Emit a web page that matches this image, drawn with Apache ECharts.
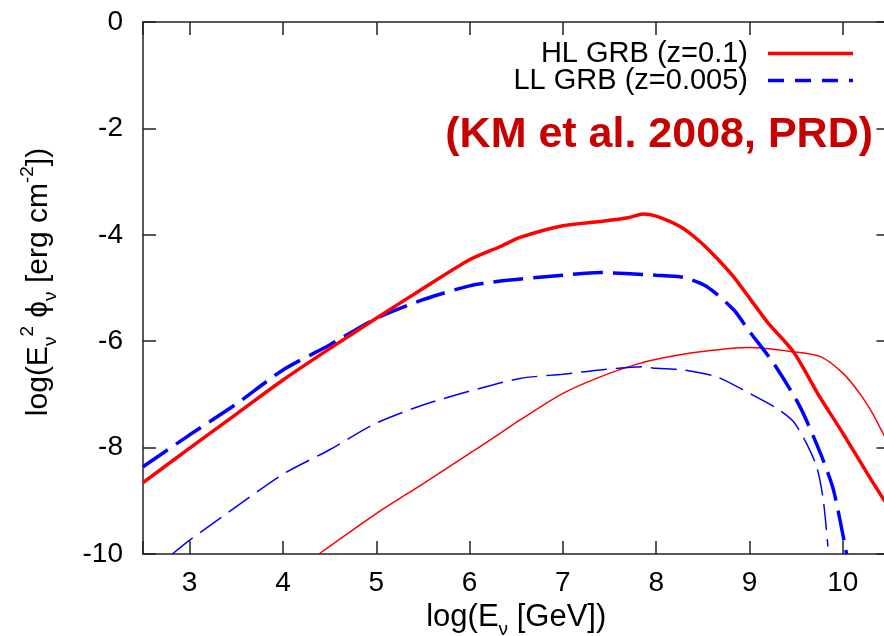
<!DOCTYPE html>
<html>
<head>
<meta charset="utf-8">
<script src="https://cdn.jsdelivr.net/npm/echarts@6/dist/echarts.min.js"></script>
<style>
html,body{margin:0;padding:0;background:#fff;}
#chart{width:884px;height:636px;}
</style>
</head>
<body>
<div id="chart"></div>
<script>
// ---- data (log10 E [GeV], log10 E^2 phi [erg cm^-2]) ----
const hlThickX = [2.5, 3, 3.5, 4, 4.5, 5, 5.5, 6, 6.33, 6.54, 7, 7.4, 7.7, 7.86, 8, 8.26, 8.47, 8.65, 8.83, 9, 9.2, 9.47, 9.75, 10, 10.26, 10.44, 10.5];
const hlThickY = [-8.66, -8.01, -7.37, -6.73, -6.14, -5.57, -5.01, -4.47, -4.22, -4.05, -3.83, -3.75, -3.68, -3.61, -3.65, -3.85, -4.13, -4.44, -4.79, -5.19, -5.66, -6.20, -7.04, -7.73, -8.48, -8.98, -9.12];

const llThickX = [2.5, 3, 3.5, 4, 4.5, 5, 5.5, 6, 6.33, 7, 7.4, 8, 8.29, 8.54, 8.83, 9, 9.26, 9.54, 9.76, 9.9, 10.04];
const llThickY = [-8.36, -7.76, -7.18, -6.54, -6.07, -5.57, -5.22, -4.96, -4.87, -4.76, -4.71, -4.76, -4.80, -4.97, -5.41, -5.82, -6.42, -7.23, -8.11, -8.80, -10.0];

const hlThinX = [4.385, 5, 5.5, 6, 6.33, 6.54, 7, 7.4, 7.76, 8, 8.47, 9, 9.47, 9.76, 10.0, 10.18, 10.32, 10.43, 10.5];
const hlThinY = [-10, -9.24, -8.68, -8.11, -7.73, -7.48, -6.98, -6.67, -6.45, -6.34, -6.20, -6.12, -6.20, -6.29, -6.60, -6.98, -7.36, -7.73, -7.95];

const llThinX = [2.815, 3, 3.5, 4, 4.5, 5, 5.5, 6, 6.54, 7, 7.4, 7.86, 8, 8.29, 8.65, 9, 9.29, 9.47, 9.61, 9.72, 9.79, 9.84];
const llThinY = [-10, -9.74, -9.11, -8.50, -8.04, -7.54, -7.20, -6.94, -6.70, -6.62, -6.54, -6.48, -6.51, -6.54, -6.67, -6.98, -7.26, -7.51, -7.92, -8.36, -8.98, -9.86];

const xTickLabels = [3, 4, 5, 6, 7, 8, 9, 10];
const yTickLabels = [0, -2, -4, -6, -8, -10];
const seriesNames = ['HL GRB (z=0.1)', 'LL GRB (z=0.005)'];
const annotation = '(KM et al. 2008, PRD)';

const zip = (xs, ys) => xs.map((x, i) => [x, ys[i]]);

const FONT = '"Liberation Sans", Arial, sans-serif';
const AX = '#222';

const chart = echarts.init(document.getElementById('chart'), null, {renderer: 'canvas'});

const commonX = {
  type: 'value', min: 2.5, max: 10.5, splitNumber: 8,
  splitLine: {show: false},
  axisLine: {show: true, onZero: false, lineStyle: {color: AX, width: 1.5}},
  axisTick: {show: true, inside: true, length: 13, lineStyle: {color: AX, width: 1.5}}
};
const commonY = {
  type: 'value', min: -10, max: 0, interval: 2,
  splitLine: {show: false},
  axisLine: {show: true, onZero: false, lineStyle: {color: AX, width: 1.5}},
  axisTick: {show: true, inside: true, length: 13, lineStyle: {color: AX, width: 1.5}}
};

function richSet(size) {
  const small = Math.round(size * 0.62);
  return {
    t: {fontSize: size, fontFamily: FONT, color: '#000', lineHeight: Math.round(size * 1.4), verticalAlign: 'middle'},
    sub: {fontSize: small, fontFamily: FONT, color: '#000', verticalAlign: 'bottom', lineHeight: small},
    sup: {fontSize: small, fontFamily: FONT, color: '#000', verticalAlign: 'top', lineHeight: small}
  };
}

// legend icons: solid and dashed line samples (85 x 3.5)
const solidIcon = 'path://M0,0h85v3.5h-85z';
const dashIcon = 'path://M0,0h16v3.5h-16z M27,0h16v3.5h-16z M54,0h16v3.5h-16z M81,0h4v3.5h-4z';

const option = {
  animation: false,
  backgroundColor: '#fff',
  grid: {left: 143, top: 22, width: 746.5, bottom: 82, containLabel: false, outerBoundsMode: 'none'},
  legend: [
    {
      data: [{name: seriesNames[0], icon: solidIcon}], orient: 'vertical', right: 26, top: 34, align: 'right',
      itemWidth: 85, itemHeight: 3.5, selectedMode: false,
      textStyle: {fontSize: 29, fontFamily: FONT, color: '#000', padding: [0, 15, 0, 0]}
    },
    {
      data: [{name: seriesNames[1], icon: dashIcon}], orient: 'vertical', right: 26, top: 61, align: 'right',
      itemWidth: 85, itemHeight: 3.5, selectedMode: false,
      textStyle: {fontSize: 29, fontFamily: FONT, color: '#000', padding: [0, 15, 0, 0]}
    }
  ],
  xAxis: [
    Object.assign({}, commonX, {
      position: 'bottom',
      name: '{t|log(E}{sub|ν}{t| [GeV])}',
      nameLocation: 'middle', nameGap: 40,
      nameTextStyle: {rich: richSet(31)},
      axisLabel: {
        show: true, margin: 15, fontSize: 28, fontFamily: FONT, color: '#000',
        formatter: v => (xTickLabels.indexOf(v) >= 0 ? String(v) : '')
      }
    }),
    Object.assign({}, commonX, {position: 'top', axisLabel: {show: false}})
  ],
  yAxis: [
    Object.assign({}, commonY, {
      position: 'left',
      name: '{t|log(E}{sub|ν}{sup|2}{t| ϕ}{sub|ν}{t| [erg cm}{sup|-2}{t|])}',
      nameLocation: 'middle', nameGap: 83, nameRotate: 90,
      nameTextStyle: {padding: [0, 0, 0, 12], rich: richSet(30)},
      axisLabel: {
        show: true, margin: 20, fontSize: 28, fontFamily: FONT, color: '#000',
        formatter: v => (yTickLabels.indexOf(v) >= 0 ? String(v) : '')
      }
    }),
    Object.assign({}, commonY, {position: 'right', axisLabel: {show: false}})
  ],
  graphic: [
    {
      type: 'text', right: 11, top: 114, z: 100,
      style: {text: annotation, fontSize: 43, fontWeight: 'bold', fontFamily: FONT, fill: '#C80000'}
    }
  ],
  series: [
    {
      name: seriesNames[0], type: 'line', data: zip(hlThickX, hlThickY), showSymbol: false, symbol: 'none',
      smooth: 0.25, lineStyle: {color: '#FF0000', width: 3.5}, itemStyle: {color: '#FF0000'}, z: 4
    },
    {
      name: seriesNames[1], type: 'line', data: zip(llThickX, llThickY), showSymbol: false, symbol: 'none',
      smooth: 0.25, lineStyle: {color: '#0000FF', width: 3.5, type: [30, 10]}, itemStyle: {color: '#0000FF'}, z: 3
    },
    {
      name: 'HL thin', type: 'line', data: zip(hlThinX, hlThinY), showSymbol: false, symbol: 'none',
      smooth: 0.25, lineStyle: {color: '#FF0000', width: 1.5}, itemStyle: {color: '#FF0000'}, z: 2
    },
    {
      name: 'LL thin', type: 'line', data: zip(llThinX, llThinY), showSymbol: false, symbol: 'none',
      smooth: 0.25, lineStyle: {color: '#0000FF', width: 1.5, type: [26, 9]}, itemStyle: {color: '#0000FF'}, z: 2
    }
  ]
};
chart.setOption(option);
</script>
</body>
</html>
